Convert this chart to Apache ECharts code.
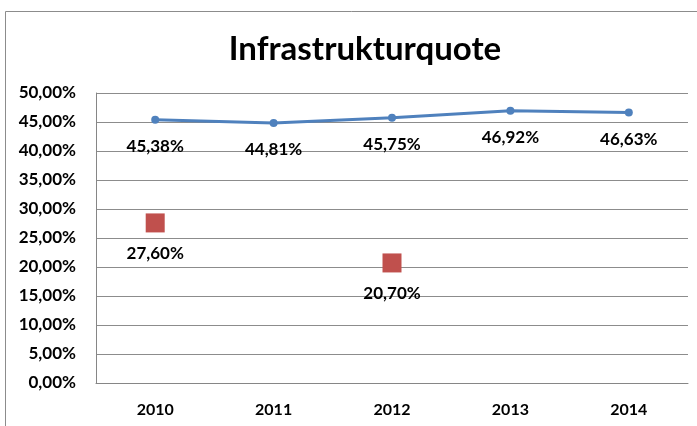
<!DOCTYPE html>
<html><head><meta charset="utf-8">
<script src="https://cdn.jsdelivr.net/npm/echarts@6/dist/echarts.min.js"></script>
<style>html,body{margin:0;padding:0;background:#fff}#c{width:697px;height:426px}</style>
</head><body><div id="c"></div>
<script>
var categories = ['2010','2011','2012','2013','2014'];
var lineValues = [45.38, 44.81, 45.75, 46.92, 46.63];
var pointValues = [27.60, null, 20.70, null, null];
var yTicks = {min: 0, max: 50, interval: 5};

function fmt(v, d){ return v.toFixed(d).replace('.', ',') + '%'; }
var FONT = 'Lato';
var chart = echarts.init(document.getElementById('c'));
chart.setOption({
  animation: false,
  backgroundColor: '#fff',
  title: {text: 'Infrastrukturquote', left: 360, top: 28, textAlign: 'center',
    textStyle: {fontFamily: FONT, fontWeight: 'bold', fontSize: 33, color: '#000'}},
  graphic: [{type: 'rect', shape: {x: 5.5, y: 11.5, width: 800, height: 600},
    style: {fill: 'none', stroke: '#8c8c8c', lineWidth: 1}, silent: true}],
  grid: {left: 96, top: 93, right: 9, bottom: 43},
  xAxis: {type: 'category', data: categories, boundaryGap: true,
    axisLine: {lineStyle: {color: '#868686', width: 1}}, axisTick: {show: false},
    axisLabel: {fontFamily: FONT, fontWeight: 'bold', fontSize: 16, color: '#000', margin: 19}},
  yAxis: {type: 'value', min: yTicks.min, max: yTicks.max, interval: yTicks.interval,
    axisLine: {show: true, lineStyle: {color: '#868686', width: 1}}, axisTick: {show: false},
    splitLine: {lineStyle: {color: '#8c8c8c', width: 1}},
    axisLabel: {fontFamily: FONT, fontWeight: 'bold', fontSize: 17, color: '#000', margin: 20,
      formatter: function(v){ return fmt(v, 2); }}},
  series: [
    {type: 'line', data: lineValues, symbol: 'circle', symbolSize: 8,
      lineStyle: {color: '#4F81BD', width: 3}, itemStyle: {color: '#4F81BD'},
      label: {show: true, position: 'bottom', distance: 14, fontFamily: FONT, fontWeight: 'bold',
        fontSize: 17, color: '#000', formatter: function(p){ return fmt(p.value, 2); }}},
    {type: 'scatter', data: pointValues, symbol: 'rect', symbolSize: 19,
      itemStyle: {color: '#C0504D', opacity: 1},
      label: {show: true, position: 'bottom', distance: 13, fontFamily: FONT, fontWeight: 'bold',
        fontSize: 17, color: '#000', formatter: function(p){ return fmt(p.value, 2); }}}
  ]
});
</script></body></html>
